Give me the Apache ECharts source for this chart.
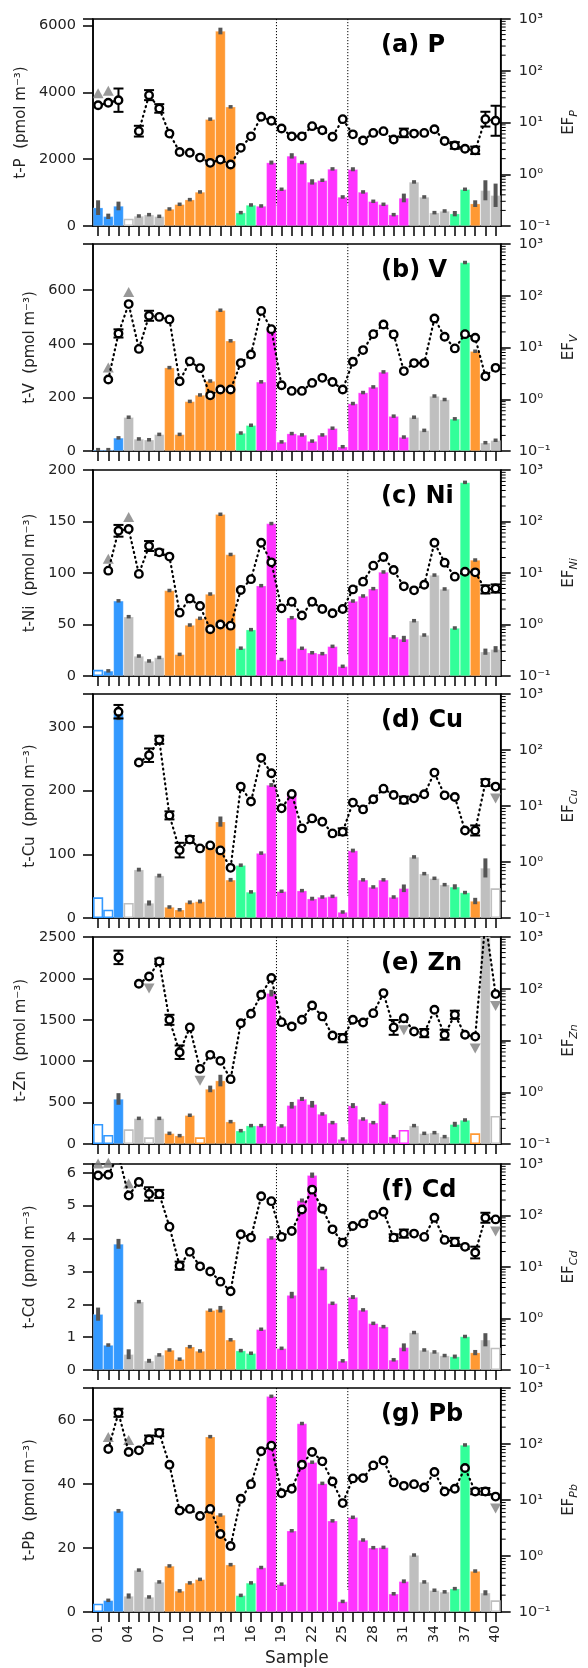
<!DOCTYPE html>
<html><head><meta charset="utf-8">
<script src="https://cdn.jsdelivr.net/npm/echarts@6/dist/echarts.min.js"></script>
<style>html,body{margin:0;padding:0;background:#fff}#c{width:588px;height:1668px}</style>
</head><body><div id="c"></div>
<script>
// ---------------- DATA ----------------
const samples = ['01','02','03','04','05','06','07','08','09','10','11','12','13','14','15','16','17','18','19','20','21','22','23','24','25','26','27','28','29','30','31','32','33','34','35','36','37','38','39','40'];
const sampleGroup = ['blue','blue','blue','gray','gray','gray','gray','orange','orange','orange','orange','orange','orange','orange','green','green',
  'magenta','magenta','magenta','magenta','magenta','magenta','magenta','magenta','magenta','magenta','magenta','magenta','magenta','magenta','magenta',
  'gray','gray','gray','gray','green','green','orange','gray','gray'];
const periodBreaks = [18, 25]; // dotted separators after these samples

// (a) P
const P_conc = [550,290,600,220,300,340,290,510,650,790,1020,3200,5840,3570,400,630,600,1900,1100,2100,1900,1320,1370,1710,870,1700,1020,740,650,340,840,1320,870,400,450,370,1100,670,1070,920];
const P_concErr = [220,80,130,0,0,0,0,0,0,0,0,0,100,0,0,0,0,60,0,80,50,80,0,0,0,60,0,0,0,0,130,0,0,0,0,80,0,100,300,350];
const P_hollow = [4];
const P_ef = [21.6,24,27,null,6.8,33.8,18.7,6.1,2.7,2.6,2.1,1.66,1.92,1.54,3.24,5.4,12.9,10.8,7.65,5.4,5.4,8.5,7.1,5.3,11.6,5.9,4.5,6.3,6.8,4.7,6.3,6.1,6.3,7.4,4.4,3.6,3.1,2.9,11.6,10.8];
const P_efErr = [null,null,1.68,null,1.27,1.25,1.21,null,null,null,null,null,null,null,null,null,null,null,null,null,null,null,null,null,null,null,null,null,null,null,1.21,null,null,null,null,1.16,null,1.18,1.39,1.95];
const P_lower = [1,2];
const P_upper = [];

// (b) V
const V_conc = [5,5,49,126,45,42,62,311,62,185,209,261,525,411,67,96,258,450,34,65,60,37,60,85,16,177,218,239,295,130,52,126,77,205,192,120,703,372,31,40];
const V_concErr = [0,0,0,0,0,0,0,0,0,0,0,0,0,0,0,0,0,0,0,0,0,0,0,0,0,0,0,0,0,0,0,0,0,0,0,0,0,0,0,0];
const V_hollow = [];
const V_ef = [null,2.4,18.7,69,9.4,41,39,34.9,2.23,5.4,4.0,1.19,1.54,1.54,5.0,7.3,51,22.6,1.87,1.45,1.45,2.07,2.59,2.16,1.54,5.3,8.9,18.1,27.9,17.9,3.5,5.0,5.0,36.4,16.1,9.6,18.1,15.4,2.79,4.04];
const V_efErr = [null,null,1.2,null,null,1.25,null,null,null,null,null,null,null,null,null,null,null,null,null,null,null,null,null,null,null,null,null,null,null,null,null,null,null,null,null,null,null,null,null,null];
const V_lower = [2,4];
const V_upper = [];

// (c) Ni
const Ni_conc = [6,5,73,57.6,19.4,14.6,18,83,21,49.5,56,79.6,157,118,27,45,87.7,148,16,56.6,26.9,22.6,21.7,28.8,9.4,72.8,77.7,84.8,101,38,36,53.7,39.8,98,84.5,46.6,188,112.6,23.6,26];
const Ni_concErr = [0,0,0,0,0,0,0,0,0,0,0,0,0,0,0,0,0,0,0,0,0,0,0,0,0,0,0,0,0,0,3,0,0,0,0,0,0,0,3,3];
const Ni_hollow = [1];
const Ni_ef = [null,11.1,66,71.5,9.6,33.4,25.2,20.8,1.7,3.2,2.28,0.806,1.0,0.95,4.68,7.6,38.8,16.1,2.06,2.77,1.5,2.77,2.0,1.65,2.0,4.8,6.8,13.9,20.5,11.4,5.5,4.6,5.9,38.8,15.9,8.5,10.6,10.3,4.8,5.0];
const Ni_efErr = [null,null,1.3,null,null,1.25,1.13,null,null,null,null,null,null,null,null,null,null,null,null,null,null,null,null,null,null,null,null,null,null,null,null,null,null,null,null,null,null,null,1.2,1.2];
const Ni_lower = [2,4];
const Ni_upper = [];

// (d) Cu
const Cu_conc = [32.5,13,321,23.6,76,23.6,66.6,17.3,13,24.6,26,112.7,151.5,60,83,41,102,209,42,195,43,30.4,33,34,9.4,106,60,48.8,60,33,46.7,96,69.7,62.4,52.4,49,40,26.7,78.7,46.7];
const Cu_concErr = [0,0,10,0,3,4,3,0,0,3,3,0,8,3,0,0,0,3,0,0,0,3,0,0,0,3,0,0,0,0,6,0,0,0,0,4,0,5,15,0];
const Cu_hollow = [1,2,4,40];
const Cu_ef = [null,null,483,null,59.7,80.7,152,6.8,1.63,2.53,1.75,1.98,1.61,0.787,22.2,12.0,72.4,38.5,9.08,16.4,3.98,6.0,5.24,3.24,3.47,11.5,8.7,13.2,20.4,15.7,12.8,13.7,16.2,39.5,15.5,14.5,3.66,3.66,26.2,22.2];
const Cu_efErr = [null,null,1.32,null,null,1.32,1.18,1.18,1.35,1.15,null,null,null,null,null,null,null,null,null,null,null,null,null,null,1.15,null,null,null,null,null,1.15,null,null,null,null,null,null,1.23,1.15,null];
const Cu_lower = [];
const Cu_upper = [40];

// (e) Zn
const Zn_conc = [242,109,544,177,310,81,310,129,101,347,81,665,766,270,161,222,222,1822,218,468,544,480,363,258,60,464,302,258,492,89,169,222,129,137,89,238,290,129,2600,339];
const Zn_concErr = [0,0,70,0,20,0,20,0,0,20,0,40,70,20,0,0,0,40,0,40,25,40,0,0,0,30,0,0,0,0,0,20,0,0,0,30,20,0,0,0];
const Zn_hollow = [1,2,4,6,11,31,38,40];
const Zn_ef = [null,null,404,null,125,173,338,25.1,5.94,17.9,2.83,5.28,4.04,1.79,21.6,32.8,76.5,161,22.6,18.7,25.1,47.5,29.2,12.5,11.1,25.1,22.3,33.8,82.4,17.9,27.0,14.9,13.9,39.3,12.9,31.4,12.9,11.9,2000,78.8];
const Zn_efErr = [null,null,1.35,null,null,null,1.13,1.25,1.35,null,null,null,null,null,null,null,null,null,null,null,null,null,null,null,1.2,null,null,null,null,1.39,null,null,1.2,null,1.25,1.2,null,null,null,null];
const Zn_lower = [];
const Zn_upper = [6,11,31,38,40];

// (f) Cd
const Cd_conc = [1.70,0.76,3.84,0.48,2.08,0.28,0.46,0.61,0.33,0.71,0.58,1.82,1.85,0.92,0.59,0.51,1.24,4.02,0.66,2.28,5.16,5.93,3.09,2.03,0.28,2.22,1.83,1.42,1.32,0.31,0.69,1.14,0.61,0.55,0.44,0.41,1.02,0.53,0.92,0.68];
const Cd_concErr = [0.2,0.05,0.15,0.15,0,0.06,0.05,0,0,0.04,0,0,0.1,0.04,0,0,0,0,0,0.1,0.06,0.08,0,0,0,0.06,0,0,0,0,0.12,0,0,0,0,0.06,0,0.08,0.2,0];
const Cd_hollow = [40];
const Cd_ef = [600,620,1500,244,447,262,262,60.7,10.6,19.7,10.3,8.2,5.2,3.39,43.2,37.2,237,190,38.4,50,131,318,135,53.8,29.8,62.5,70.3,102,118,37.2,44.5,44.5,38.4,90.4,33.6,30.7,24.6,19.1,90.4,84];
const Cd_efErr = [null,null,null,null,null,1.35,1.2,null,1.2,null,null,null,null,null,null,null,null,null,null,null,null,null,null,null,null,null,null,null,null,1.16,1.2,null,null,null,null,1.2,null,1.3,1.25,null];
const Cd_lower = [1,2,4];
const Cd_upper = [40];

// (g) Pb
const Pb_conc = [2.6,3.65,31.6,5.0,13.1,4.7,9.4,14.4,6.6,9.1,10.2,54.8,30.3,14.8,5.2,9.1,13.9,67.4,8.7,25.4,58.9,46.8,40.2,28.5,3.3,29.6,22.5,20.1,20.2,5.7,9.6,17.8,9.4,6.8,6.3,7.3,52.2,12.8,6.0,3.65];
const Pb_concErr = [0,0,0.6,0.8,0,0,0,0,0,0,0,0,0,0,0,0,0,0,0,0,0,0,0,0,0,0,0,0,0,0,0.6,0,0,0,0,0,0,0.4,0.8,0];
const Pb_hollow = [1,40];
const Pb_ef = [null,81.5,361,72,77,120,158,42.7,6.47,6.93,5.19,6.93,2.47,1.51,10.5,19.2,74,93.5,13.2,15.9,42.7,72,49,21.4,8.8,24.3,24.6,41.5,51,20.6,17.9,19.2,16.7,31.6,14.2,15.9,37.2,14.2,14.2,11.5];
const Pb_efErr = [null,null,1.18,null,null,1.18,1.15,null,null,null,null,null,null,null,null,null,null,null,null,null,null,null,null,null,null,null,null,null,null,null,null,null,null,null,null,null,null,1.12,1.15,null];
const Pb_lower = [2,4];
const Pb_upper = [40];

const axisTicksLeft = [
  {max:6200, interval:2000}, {max:772, interval:200}, {max:200, interval:50}, {max:352, interval:100},
  {max:2500, interval:500}, {max:6.27, interval:1}, {max:70, interval:20}
];

// ---------------- STYLE / LAYOUT ----------------
const groupColors = {blue:'#3399ff', gray:'#bfbfbf', orange:'#ff9933', green:'#33ff99', magenta:'#ff33ff'};
const layout = [
  {top:19, h:207}, {top:244, h:207}, {top:470, h:206}, {top:694, h:224},
  {top:937, h:207}, {top:1164, h:206}, {top:1388, h:224}
];
const GL = 93, GW = 417;
const FONT = 'DejaVu Sans';

const panels = [
  {el:'P', tag:'(a) P', conc:P_conc, err:P_concErr, hollow:P_hollow, ef:P_ef, efErr:P_efErr, lower:P_lower, upper:P_upper},
  {el:'V', tag:'(b) V', conc:V_conc, err:V_concErr, hollow:V_hollow, ef:V_ef, efErr:V_efErr, lower:V_lower, upper:V_upper},
  {el:'Ni', tag:'(c) Ni', conc:Ni_conc, err:Ni_concErr, hollow:Ni_hollow, ef:Ni_ef, efErr:Ni_efErr, lower:Ni_lower, upper:Ni_upper},
  {el:'Cu', tag:'(d) Cu', conc:Cu_conc, err:Cu_concErr, hollow:Cu_hollow, ef:Cu_ef, efErr:Cu_efErr, lower:Cu_lower, upper:Cu_upper},
  {el:'Zn', tag:'(e) Zn', conc:Zn_conc, err:Zn_concErr, hollow:Zn_hollow, ef:Zn_ef, efErr:Zn_efErr, lower:Zn_lower, upper:Zn_upper},
  {el:'Cd', tag:'(f) Cd', conc:Cd_conc, err:Cd_concErr, hollow:Cd_hollow, ef:Cd_ef, efErr:Cd_efErr, lower:Cd_lower, upper:Cd_upper},
  {el:'Pb', tag:'(g) Pb', conc:Pb_conc, err:Pb_concErr, hollow:Pb_hollow, ef:Pb_ef, efErr:Pb_efErr, lower:Pb_lower, upper:Pb_upper}
];

const supMap = {'-':'⁻','0':'⁰','1':'¹','2':'²','3':'³','4':'⁴','5':'⁵','6':'⁶','7':'⁷','8':'⁸','9':'⁹'};
const sup = s => String(s).split('').map(c => supMap[c]).join('');
const minorVals = [];
for (let e = -1; e <= 2; e++) for (let m = 2; m <= 9; m++) minorVals.push(m * Math.pow(10, e));

const grid = [], xAxis = [], yAxis = [], series = [], title = [];
const axisLineStyle = {color:'#000', width:1.5};

panels.forEach((p, k) => {
  const L = layout[k], T = axisTicksLeft[k];
  const last = k === panels.length - 1;
  grid.push({left:GL, width:GW, top:L.top, height:L.h, show:true, borderColor:'#000', borderWidth:1.5, backgroundColor:'transparent'});
  xAxis.push({
    type:'category', gridIndex:k, data:samples, boundaryGap:true,
    axisLine:{lineStyle:axisLineStyle},
    axisTick:{show:true, alignWithLabel:true, interval:0, length:10, lineStyle:{color:'#000', width:1.5}},
    axisLabel: last ? {show:true, interval:2, rotate:90, fontSize:14, color:'#222', margin:13, fontFamily:FONT} : {show:false},
    splitLine:{show:false},
    name: last ? 'Sample' : '', nameLocation:'middle', nameGap:38,
    nameTextStyle:{fontSize:17, color:'#222', fontFamily:FONT}
  });
  yAxis.push({
    type:'value', gridIndex:k, min:0, max:T.max, interval:T.interval, position:'left',
    axisLine:{show:true, lineStyle:axisLineStyle},
    axisTick:{show:true, length:10, lineStyle:{color:'#000', width:1.5}},
    splitLine:{show:false},
    axisLabel:{fontSize:14.5, color:'#222', margin:17, fontFamily:FONT,
      formatter: v => { const r = v / T.interval; return Math.abs(r - Math.round(r)) < 1e-6 ? String(Math.round(v)) : ''; }},
    name:'t-' + p.el + '  (pmol m⁻³)', nameLocation:'middle', nameGap:55, nameRotate:90,
    nameTextStyle:{fontSize:15, color:'#222', fontFamily:FONT}
  });
  yAxis.push({
    type:'log', logBase:10, gridIndex:k, min:0.1, max:1000, position:'right',
    axisLine:{show:true, lineStyle:axisLineStyle},
    axisTick:{show:true, length:10, lineStyle:{color:'#000', width:1.5}},
    splitLine:{show:false},
    axisLabel:{fontSize:14.5, color:'#222', margin:18, fontFamily:FONT,
      formatter: v => '10' + sup(Math.round(Math.log10(v)))},
    name:'{a|EF}{b|' + p.el + '}', nameLocation:'middle', nameGap:55, nameRotate:90,
    nameTextStyle:{fontSize:15, color:'#222', fontFamily:FONT,
      rich:{a:{fontSize:15, color:'#222', fontFamily:FONT, lineHeight:22, verticalAlign:'middle'},
            b:{fontSize:11, color:'#222', fontFamily:FONT, fontStyle:'italic', lineHeight:12, verticalAlign:'bottom'}}}
  });
  title.push({text:p.tag, left:376, top:L.top + 10,
    textStyle:{fontSize:24, fontWeight:'bold', color:'#000', fontFamily:FONT}});

  const yi = 2 * k, ye = 2 * k + 1;
  // bars
  series.push({
    type:'bar', xAxisIndex:k, yAxisIndex:yi, barCategoryGap:'0%', barGap:'0%', clip:true, z:2, silent:true,
    data:p.conc.map((v, i) => {
      const c = groupColors[sampleGroup[i]];
      return {value:v, itemStyle: p.hollow.includes(i + 1)
        ? {color:'#fff', borderColor:c, borderWidth:1.6}
        : {color:c, borderColor:'rgba(255,255,255,0.45)', borderWidth:0.6}};
    })
  });
  // bar error marks
  series.push({
    type:'custom', xAxisIndex:k, yAxisIndex:yi, z:3, silent:true,
    data:p.conc.map((v, i) => [i, v, p.err[i], p.hollow.includes(i + 1) ? 1 : 0]),
    renderItem:(params, api) => {
      if (api.value(3)) return null;
      const i = api.value(0), v = api.value(1), e = api.value(2);
      const cs = params.coordSys;
      let y1 = api.coord([i, v + e])[1], y2 = api.coord([i, Math.max(0, v - e)])[1];
      const cx = api.coord([i, v])[0];
      if (y2 - y1 < 3.5) { const c = api.coord([i, v])[1]; y1 = c - 1.75; y2 = c + 1.75; }
      y1 = Math.max(y1, cs.y); y2 = Math.min(y2, cs.y + cs.height);
      if (y2 <= y1) return null;
      return {type:'rect', shape:{x:cx - 2, y:y1, width:4, height:y2 - y1}, style:{fill:'#555'}};
    }
  });
  // period separators
  series.push({
    type:'custom', xAxisIndex:k, yAxisIndex:yi, z:4, silent:true,
    data:periodBreaks.map(b => [b - 1, 0]),
    renderItem:(params, api) => {
      const cs = params.coordSys;
      const x = api.coord([api.value(0), 0])[0] + api.size([1, 0])[0] / 2;
      return {type:'line', shape:{x1:x, y1:cs.y, x2:x, y2:cs.y + cs.height * 0.9},
        style:{stroke:'#000', lineWidth:1, lineDash:[1.2, 1.8]}};
    }
  });
  // minor log ticks
  series.push({
    type:'custom', xAxisIndex:k, yAxisIndex:ye, z:5, silent:true, clip:false,
    data:[[0, 1]],
    renderItem:(params, api) => {
      const cs = params.coordSys, xr = cs.x + cs.width;
      return {type:'group', children:minorVals.map(v => {
        const y = api.coord([0, v])[1];
        return {type:'line', shape:{x1:xr, y1:y, x2:xr + 5, y2:y}, style:{stroke:'#000', lineWidth:1}};
      })};
    }
  });
  // limit triangles
  series.push({
    type:'scatter', xAxisIndex:k, yAxisIndex:ye, z:8, silent:true,
    symbol:'triangle', symbolSize:[11, 10], symbolOffset:[0, -12],
    itemStyle:{color:'#808080'},
    data:p.lower.map(s => [s - 1, p.ef[s - 1]])
  });
  series.push({
    type:'scatter', xAxisIndex:k, yAxisIndex:ye, z:8, silent:true,
    symbol:'path://M0,0 L10,0 L5,9 Z', symbolSize:[11, 10], symbolOffset:[0, 12],
    itemStyle:{color:'#808080'},
    data:p.upper.map(s => [s - 1, p.ef[s - 1]])
  });
  // EF error bars
  series.push({
    type:'custom', xAxisIndex:k, yAxisIndex:ye, z:9, silent:true,
    data:p.efErr.map((f, i) => f ? [i, p.ef[i], f] : null).filter(d => d),
    renderItem:(params, api) => {
      const i = api.value(0), v = api.value(1), f = api.value(2);
      const cs = params.coordSys;
      const x = api.coord([i, v])[0];
      const yt = Math.max(cs.y, api.coord([i, v * f])[1]);
      const yb = Math.min(cs.y + cs.height, api.coord([i, v / f])[1]);
      const st = {stroke:'#000', lineWidth:2};
      return {type:'group', children:[
        {type:'line', shape:{x1:x, y1:yt, x2:x, y2:yb}, style:st},
        {type:'line', shape:{x1:x - 5, y1:yt, x2:x + 5, y2:yt}, style:st},
        {type:'line', shape:{x1:x - 5, y1:yb, x2:x + 5, y2:yb}, style:st}
      ]};
    }
  });
  // EF line
  series.push({
    type:'line', xAxisIndex:k, yAxisIndex:ye, z:10, silent:true, clip:true,
    data:p.ef, connectNulls:false, showAllSymbol:true,
    symbol:'circle', symbolSize:7.5,
    itemStyle:{color:'#fff', borderColor:'#000', borderWidth:2.4},
    lineStyle:{color:'#000', width:2.2, type:[1, 4], cap:'round'}
  });
});

const chart = echarts.init(document.getElementById('c'), null, {renderer:'canvas'});
chart.setOption({
  animation:false,
  backgroundColor:'#fff',
  textStyle:{fontFamily:FONT},
  title, grid, xAxis, yAxis, series
});
</script>
</body></html>
